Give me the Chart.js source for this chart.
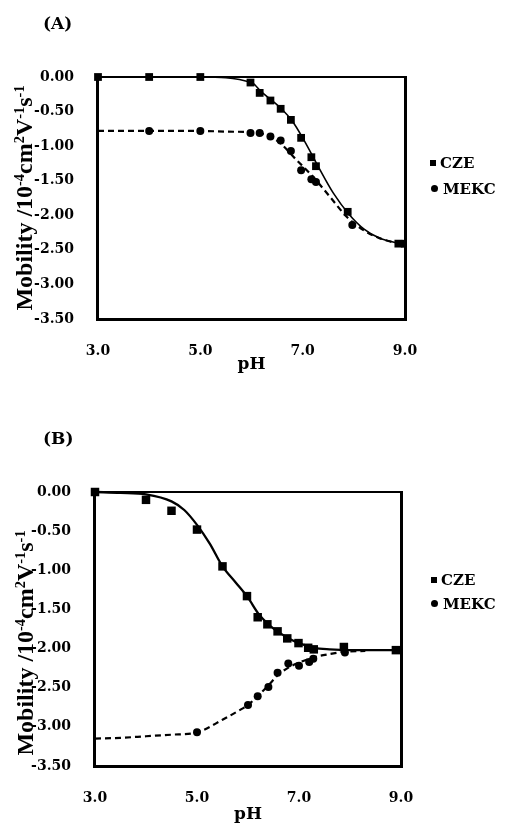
<!DOCTYPE html>
<html>
<head>
<meta charset="utf-8">
<script src="https://cdn.jsdelivr.net/npm/chart.js@4.4.0/dist/chart.umd.min.js"></script>
<style>
  body { margin: 0; width: 515px; height: 823px; overflow: hidden; position: relative; background: #fff; }
  canvas { position: absolute; left: 0; }
  #chartA { top: 0; }
  #chartB { top: 412px; }
  .panel { position: absolute; font: bold 17px "DejaVu Serif"; color: #000; z-index: 2; }
  .ytitle {
    position: absolute; z-index: 2; white-space: nowrap; color: #000;
    font: bold 24px "Liberation Serif";
    transform: translate(-50%, -50%) rotate(-90deg);
  }
  .ytitle sup { font-size: 0.6em; line-height: 0; vertical-align: 0.55em; }
  .leg { position: absolute; z-index: 2; font: bold 15px "DejaVu Serif"; color: #000; line-height: 16px; }
  .sq { display: inline-block; width: 6px; height: 6px; background: #000; margin-right: 4px; vertical-align: 2px; }
  .dot { display: inline-block; width: 7px; height: 7px; border-radius: 50%; background: #000; margin-right: 5px; vertical-align: 2px; }
</style>
</head>
<body>
<div class="panel" style="left:43px; top:13px">(A)</div>
<div class="panel" style="left:43px; top:428px">(B)</div>

<div class="ytitle" style="left:24px; top:198px">Mobility /10<sup>-4</sup>cm<sup>2</sup>V<sup>-1</sup>s<sup>-1</sup></div>
<div class="ytitle" style="left:25px; top:643px">Mobility /10<sup>-4</sup>cm<sup>2</sup>V<sup>-1</sup>s<sup>-1</sup></div>

<div class="leg" style="left:430px; top:155px"><span class="sq"></span>CZE</div>
<div class="leg" style="left:431px; top:181px"><span class="dot"></span>MEKC</div>
<div class="leg" style="left:431px; top:572px"><span class="sq"></span>CZE</div>
<div class="leg" style="left:431px; top:596px"><span class="dot"></span>MEKC</div>

<canvas id="chartA" width="515" height="412"></canvas>
<canvas id="chartB" width="515" height="430"></canvas>

<script>
// (A) measured points
const phA_cze = [3.0, 4.0, 5.0, 5.98, 6.16, 6.37, 6.57, 6.77, 6.97, 7.17, 7.26, 7.88, 8.87];
const muA_cze = [0, 0, 0, -0.08, -0.23, -0.34, -0.46, -0.62, -0.88, -1.16, -1.29, -1.95, -2.41];
const phA_mekc = [4.0, 5.0, 5.98, 6.16, 6.37, 6.57, 6.77, 6.97, 7.17, 7.26, 7.97, 8.96];
const muA_mekc = [-0.78, -0.78, -0.81, -0.81, -0.86, -0.92, -1.07, -1.35, -1.48, -1.52, -2.14, -2.41];
// (A) fitted curves
const phA_czeFit = [3.0, 4.0, 5.0, 6.0, 6.2, 6.4, 6.6, 6.8, 7.0, 7.2, 7.3, 7.6, 7.9, 8.2, 8.5, 8.9];
const muA_czeFit = [0, 0, 0, -0.08, -0.22, -0.34, -0.47, -0.64, -0.88, -1.15, -1.29, -1.68, -1.98, -2.2, -2.33, -2.41];
const phA_mekcFit = [3.0, 4.0, 5.0, 5.5, 6.0, 6.3, 6.55, 6.88, 7.2, 7.53, 7.86, 8.18, 8.5, 8.83, 8.95];
const muA_mekcFit = [-0.78, -0.78, -0.78, -0.79, -0.8, -0.84, -0.95, -1.2, -1.44, -1.73, -2.02, -2.21, -2.33, -2.4, -2.41];

// (B) measured points
const phB_cze = [3.0, 4.0, 4.5, 5.0, 5.5, 5.98, 6.19, 6.38, 6.58, 6.77, 6.99, 7.18, 7.29, 7.88, 8.9];
const muB_cze = [0, -0.10, -0.24, -0.48, -0.95, -1.33, -1.60, -1.69, -1.78, -1.87, -1.93, -1.99, -2.01, -1.98, -2.02];
const phB_mekc = [5.0, 6.0, 6.19, 6.4, 6.58, 6.79, 7.0, 7.2, 7.28, 7.9];
const muB_mekc = [-3.07, -2.72, -2.61, -2.49, -2.31, -2.19, -2.22, -2.17, -2.13, -2.05];
// (B) fitted curves
const phB_czeFit = [3.0, 3.5, 4.0, 4.5, 4.75, 5.0, 5.25, 5.5, 5.75, 6.0, 6.2, 6.4, 6.6, 6.8, 7.0, 7.3, 7.6, 8.0, 8.5, 8.9];
const muB_czeFit = [0, -0.01, -0.03, -0.12, -0.23, -0.42, -0.66, -0.95, -1.15, -1.35, -1.55, -1.69, -1.79, -1.87, -1.93, -1.99, -2.01, -2.02, -2.02, -2.02];
const phB_mekcFit = [3.0, 3.5, 4.0, 4.5, 5.0, 5.5, 5.8, 6.0, 6.2, 6.4, 6.6, 6.8, 7.0, 7.3, 7.6, 7.9, 8.3];
const muB_mekcFit = [-3.15, -3.14, -3.12, -3.1, -3.07, -2.91, -2.8, -2.72, -2.6, -2.47, -2.33, -2.24, -2.18, -2.11, -2.07, -2.04, -2.03];

const yTicks = [0, -0.5, -1.0, -1.5, -2.0, -2.5, -3.0, -3.5];
const xTicks = [3.0, 5.0, 7.0, 9.0];

const toXY = (xs, ys) => xs.map((x, i) => ({ x: x, y: ys[i] }));
const tickFont = { family: "DejaVu Serif", size: 14, weight: "bold" };

// frame round the plot
const framePlugin = {
  id: "frame",
  beforeDatasetsDraw(chart) {
    const { ctx, chartArea: a } = chart;
    const w = a.right - a.left;
    const h = a.bottom - a.top;
    ctx.save();
    ctx.fillStyle = "#000";
    ctx.fillRect(a.left - 1, a.top - 1, w + 2, 2); // top
    ctx.fillRect(a.right - 1, a.top - 1, 3, h + 2); // right
    ctx.fillRect(a.left - 2, a.top - 1, 3, h + 3); // left
    ctx.fillRect(a.left - 2, a.bottom - 1, w + 4, 3); // bottom
    ctx.restore();
  },
};

function makeChart(id, sets, box) {
  const ctx = document.getElementById(id).getContext("2d");
  return new Chart(ctx, {
    type: "scatter",
    data: {
      datasets: [
        {
          label: "CZE",
          data: toXY(sets.czeX, sets.czeY),
          pointStyle: "rect",
          pointRadius: box.sq,
          backgroundColor: "#000",
          borderColor: "#000",
          borderWidth: 0,
          clip: false,
        },
        {
          label: "MEKC",
          data: toXY(sets.mekcX, sets.mekcY),
          pointStyle: "circle",
          pointRadius: 4,
          backgroundColor: "#000",
          borderColor: "#000",
          borderWidth: 0,
          clip: false,
        },
        {
          label: "CZE fit",
          data: toXY(sets.czeFitX, sets.czeFitY),
          showLine: true,
          pointRadius: 0,
          borderColor: "#000",
          borderWidth: box.solidW,
          cubicInterpolationMode: "monotone",
          clip: false,
        },
        {
          label: "MEKC fit",
          data: toXY(sets.mekcFitX, sets.mekcFitY),
          showLine: true,
          pointRadius: 0,
          borderColor: "#000",
          borderWidth: 2.2,
          borderDash: [6, 4],
          cubicInterpolationMode: "monotone",
          clip: false,
        },
      ],
    },
    options: {
      responsive: false,
      animation: false,
      layout: { padding: { left: 0, top: box.top, right: 515 - box.right, bottom: 0 } },
      plugins: { legend: { display: false }, tooltip: { enabled: false } },
      scales: {
        x: {
          type: "linear",
          min: 3,
          max: 9,
          afterBuildTicks: (s) => { s.ticks = xTicks.map((v) => ({ value: v })); },
          afterFit: (s) => { s.height = box.h - box.bottom; },
          grid: { display: false },
          border: { display: false },
          ticks: { color: "#000", font: tickFont, padding: 16, callback: (v) => v.toFixed(1) },
          title: {
            display: true,
            text: "pH",
            color: "#000",
            font: { family: "DejaVu Serif", size: 17, weight: "bold" },
            padding: { top: 0, bottom: box.h - box.phY - 10 },
          },
        },
        y: {
          type: "linear",
          min: -3.5,
          max: 0,
          afterBuildTicks: (s) => { s.ticks = yTicks.map((v) => ({ value: v })); },
          afterFit: (s) => { s.width = box.left; },
          grid: { display: false },
          border: { display: false },
          ticks: { color: "#000", font: tickFont, padding: 16, callback: (v) => v.toFixed(2) },
        },
      },
    },
    plugins: [framePlugin],
  });
}

makeChart(
  "chartA",
  {
    czeX: phA_cze, czeY: muA_cze, mekcX: phA_mekc, mekcY: muA_mekc,
    czeFitX: phA_czeFit, czeFitY: muA_czeFit, mekcFitX: phA_mekcFit, mekcFitY: muA_mekcFit,
  },
  { left: 98, right: 405, top: 77, bottom: 319, h: 412, phY: 365, sq: 5.5, solidW: 1.6 }
);

makeChart(
  "chartB",
  {
    czeX: phB_cze, czeY: muB_cze, mekcX: phB_mekc, mekcY: muB_mekc,
    czeFitX: phB_czeFit, czeFitY: muB_czeFit, mekcFitX: phB_mekcFit, mekcFitY: muB_mekcFit,
  },
  { left: 95, right: 401, top: 80, bottom: 354, h: 430, phY: 403, sq: 6, solidW: 2.3 }
);
</script>
</body>
</html>
